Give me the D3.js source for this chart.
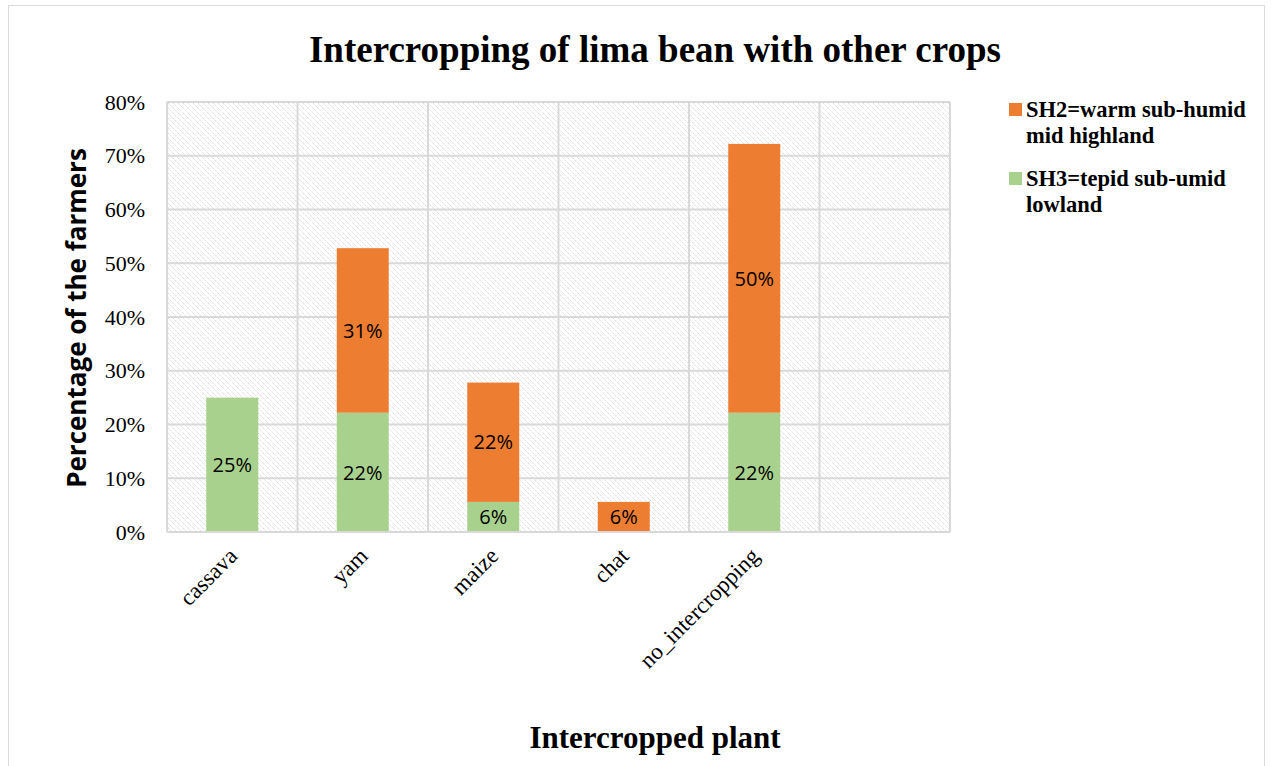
<!DOCTYPE html>
<html>
<head>
<meta charset="utf-8">
<script src="https://cdn.jsdelivr.net/npm/d3@7/dist/d3.min.js"></script>
<style>
  html, body { margin: 0; padding: 0; background: #fff; }
  svg { display: block; }
</style>
</head>
<body>
<svg id="chart" width="1273" height="766"></svg>
<script>
// Categories (the last slot is an empty category)
const categories = ["cassava", "yam", "maize", "chat", "no_intercropping", ""];
// Percentage of farmers per agro-ecology
const sh3Values = [25.0, 22.2, 5.6, 0, 22.2, 0];
const sh2Values = [0, 30.6, 22.2, 5.6, 50.0, 0];
const seriesNames = ["SH2=warm sub-humid mid highland", "SH3=tepid sub-umid lowland"];
const legendLines = [["SH2=warm sub-humid", "mid highland"], ["SH3=tepid sub-umid", "lowland"]];
const yTicks = [0, 10, 20, 30, 40, 50, 60, 70, 80];

const colors = { sh2: "#ED7D31", sh3: "#A9D18E" };
const serif = "'Liberation Serif', 'Times New Roman', serif";
const sans = "'Open Sans', sans-serif";

const svg = d3.select("#chart");
const W = 1273, H = 766;
const plot = { left: 167, right: 950, top: 102, bottom: 532 };

// Outer chart frame
svg.append("rect")
  .attr("x", 8.5).attr("y", 5.5).attr("width", W - 17).attr("height", H + 10)
  .attr("fill", "#fff").attr("stroke", "#d9d9d9").attr("stroke-width", 1);

// Diagonal hatch for the plot area
const defs = svg.append("defs");
const pat = defs.append("pattern")
  .attr("id", "hatch").attr("patternUnits", "userSpaceOnUse")
  .attr("width", 5).attr("height", 5);
pat.append("rect").attr("width", 5).attr("height", 5).attr("fill", "#fff");
pat.append("path").attr("d", "M-1,-1 L6,6 M-1,4 L1,6 M4,-1 L6,1")
  .attr("stroke", "#cfcfcf").attr("stroke-width", 1).attr("stroke-dasharray", "1,1");

const x = d3.scaleBand().domain(categories.map((c, i) => i))
  .range([plot.left, plot.right]).paddingInner(0).paddingOuter(0);
const y = d3.scaleLinear().domain([0, 80]).range([plot.bottom, plot.top]);

svg.append("rect")
  .attr("x", plot.left).attr("y", plot.top)
  .attr("width", plot.right - plot.left).attr("height", plot.bottom - plot.top)
  .attr("fill", "url(#hatch)");

// Gridlines
const grid = svg.append("g");
grid.selectAll("line.h").data(yTicks).join("line")
  .attr("x1", plot.left).attr("x2", plot.right)
  .attr("y1", d => y(d)).attr("y2", d => y(d))
  .attr("stroke", "#d9d9d9").attr("stroke-width", 2);
const vEdges = categories.map((c, i) => x(i)).concat([plot.right]);
grid.selectAll("line.v").data(vEdges).join("line")
  .attr("x1", d => d).attr("x2", d => d)
  .attr("y1", plot.top).attr("y2", plot.bottom)
  .attr("stroke", "#d9d9d9").attr("stroke-width", 2);

// Y axis tick labels
const yAxis = d3.axisLeft(y).tickValues(yTicks).tickFormat(d => d + "%").tickSize(0).tickPadding(22);
const gy = svg.append("g").attr("transform", `translate(${plot.left},0)`).call(yAxis);
gy.select(".domain").remove();
gy.selectAll("text").attr("font-family", serif).attr("font-size", 22).attr("fill", "#000");

// Stacked bars
const stackData = categories.map((c, i) => ({ i, sh3: sh3Values[i], sh2: sh2Values[i] }));
const stack = d3.stack().keys(["sh3", "sh2"]);
const layers = stack(stackData);
const barW = 52;
const bars = svg.append("g");
layers.forEach(layer => {
  bars.selectAll(null).data(layer.filter(d => d[1] - d[0] > 0)).join("rect")
    .attr("x", d => x(d.data.i) + x.bandwidth() / 2 - barW / 2)
    .attr("width", barW)
    .attr("y", d => y(d[1]))
    .attr("height", d => y(d[0]) - y(d[1]))
    .attr("fill", colors[layer.key]);
  bars.selectAll(null).data(layer.filter(d => d[1] - d[0] > 0)).join("text")
    .attr("x", d => x(d.data.i) + x.bandwidth() / 2)
    .attr("y", d => (y(d[0]) + y(d[1])) / 2)
    .attr("dy", "0.36em")
    .attr("text-anchor", "middle")
    .attr("font-family", sans).attr("font-size", 20)
    .attr("fill", "#000")
    .text(d => Math.round(d[1] - d[0]) + "%");
});

// Bottom axis line
svg.append("line").attr("x1", plot.left).attr("x2", plot.right)
  .attr("y1", plot.bottom).attr("y2", plot.bottom)
  .attr("stroke", "#d9d9d9").attr("stroke-width", 2);

// Category labels, rotated
const xAxis = svg.append("g");
xAxis.selectAll("text").data(categories).join("text")
  .attr("transform", (d, i) => `translate(${x(i) + x.bandwidth() / 2 - 5},${plot.bottom + 14}) rotate(-45)`)
  .attr("text-anchor", "end")
  .attr("dy", "0.7em")
  .attr("font-family", serif).attr("font-size", 23)
  .attr("fill", "#000")
  .text(d => d);

// Title
svg.append("text").attr("x", 655).attr("y", 62).attr("text-anchor", "middle")
  .attr("font-family", serif).attr("font-weight", "bold")
  .attr("font-size", 37).attr("fill", "#000")
  .text("Intercropping of lima bean with other crops");

// Axis titles
svg.append("text").attr("transform", `translate(86,${(plot.top + plot.bottom) / 2 + 1}) rotate(-90)`)
  .attr("text-anchor", "middle")
  .attr("font-family", sans).attr("font-weight", "bold")
  .attr("font-size", 26).attr("fill", "#000")
  .text("Percentage of the farmers");

svg.append("text").attr("x", 655).attr("y", 748).attr("text-anchor", "middle")
  .attr("font-family", serif).attr("font-weight", "bold")
  .attr("font-size", 31).attr("fill", "#000")
  .text("Intercropped plant");

// Legend
const legend = svg.append("g");
const legendColors = [colors.sh2, colors.sh3];
const legendY = [103, 172];
seriesNames.forEach((name, k) => {
  legend.append("rect").attr("x", 1009).attr("y", legendY[k]).attr("width", 13).attr("height", 13)
    .attr("fill", legendColors[k]);
  const t = legend.append("text")
    .attr("font-family", serif).attr("font-weight", "bold")
    .attr("font-size", 22.5).attr("fill", "#000");
  legendLines[k].forEach((ln, j) => {
    t.append("tspan").attr("x", 1026).attr("y", legendY[k] + 14 + j * 26).text(ln);
  });
});
</script>
</body>
</html>
